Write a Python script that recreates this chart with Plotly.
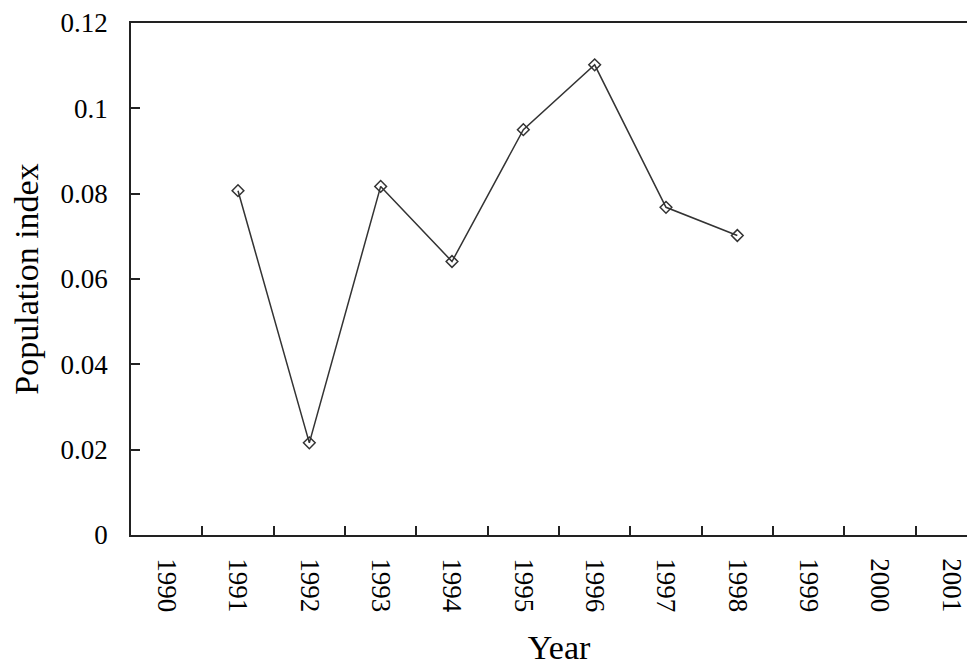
import plotly.graph_objects as go

# categories and values
years = ["1990", "1991", "1992", "1993", "1994", "1995",
         "1996", "1997", "1998", "1999", "2000", "2001"]
obs_years = ["1991", "1992", "1993", "1994", "1995", "1996", "1997", "1998"]
pop_index = [0.0807, 0.0216, 0.0817, 0.0641, 0.0950, 0.1102, 0.0768, 0.0702]

y_ticks = [0, 0.02, 0.04, 0.06, 0.08, 0.1, 0.12]
y_labels = ["0", "0.02", "0.04", "0.06", "0.08", "0.1", "0.12"]

font = "Liberation Serif, Times New Roman, serif"

fig = go.Figure(go.Scatter(
    x=obs_years,
    y=pop_index,
    mode="lines+markers",
    line=dict(color="#333333", width=1.5),
    marker=dict(symbol="diamond-open", size=9, color="#333333",
                line=dict(width=1.5, color="#333333")),
    showlegend=False))

# page body has an 8px margin, so the figure is a bit wider than the window
# and the right end of the axis runs off the edge like in the original
fig.update_layout(
    width=979, height=658,
    margin=dict(l=123, r=0, t=15, b=131, autoexpand=False),
    paper_bgcolor="white", plot_bgcolor="white",
    font=dict(family=font, color="black", size=27))

fig.update_xaxes(
    type="category",
    categoryorder="array", categoryarray=years,
    range=[-0.5, 11.5],
    tickson="boundaries",
    ticks="inside", ticklen=9, tickcolor="#222222", tickwidth=1.5,
    tickangle=90,
    ticklabelstandoff=16,
    showline=True, linecolor="#222222", linewidth=1.5, mirror=True,
    showgrid=False, zeroline=False,
    tickfont=dict(size=27),
    title=dict(text="Year", font=dict(size=34), standoff=25))

fig.update_yaxes(
    range=[0, 0.12],
    tickvals=y_ticks, ticktext=y_labels,
    ticks="inside", ticklen=9, tickcolor="#222222", tickwidth=1.5,
    ticklabelstandoff=16,
    showline=True, linecolor="#222222", linewidth=1.5, mirror=False,
    showgrid=False, zeroline=False,
    tickfont=dict(size=27),
    title=dict(text="Population index", font=dict(size=34), standoff=12))

fig.write_html("out.html")
